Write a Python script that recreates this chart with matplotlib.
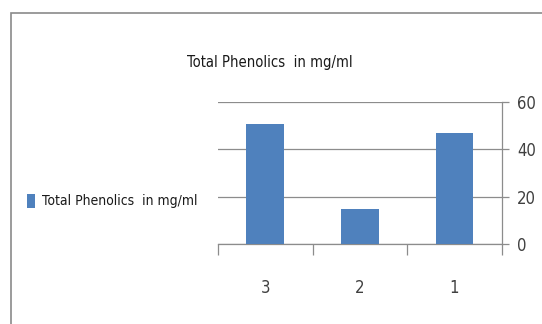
import matplotlib
matplotlib.use("Agg")
import matplotlib.pyplot as plt
from matplotlib.patches import Rectangle
from matplotlib.ticker import FixedLocator

categories = ["3", "2", "1"]
values = [50.5, 15, 47]
series_name = "Total Phenolics  in mg/ml"
y_ticks = [0, 20, 40, 60]

bar_color = "#4F81BD"
text_color = "#404040"
grid_color = "#8C8C8C"
cond = dict(family="DejaVu Sans", stretch="condensed")

fig = plt.figure(figsize=(5.42, 3.24), dpi=100)
fig.patch.set_facecolor("white")

# outer chart frame (only the top and left edges fall inside the canvas)
fig.add_artist(Rectangle((11 / 542, -0.2), 1.2, (1 - 13 / 324) + 0.2,
                         transform=fig.transFigure, fill=False,
                         edgecolor="#8A8A8A", linewidth=1.2))

ax = fig.add_axes([218 / 542, 1 - 244.3 / 324, (501.7 - 218) / 542, (244.3 - 101.7) / 324])
x = list(range(len(categories)))
bars = ax.bar(x, values, width=0.4, color=bar_color, label=series_name, zorder=3)

ax.set_xlim(-0.5, len(categories) - 0.5)
ax.set_ylim(0, 60)
ax.set_yticks(y_ticks)
ax.yaxis.tick_right()
ax.set_xticks(x)
ax.set_xticklabels(categories)
ax.xaxis.set_minor_locator(FixedLocator([i - 0.5 for i in range(len(categories) + 1)]))
ax.tick_params(axis="x", which="major", length=0, pad=25, labelsize=12, labelcolor=text_color)
ax.tick_params(axis="x", which="minor", length=8, color=grid_color, width=0.9)
ax.tick_params(axis="y", which="major", length=5, color=grid_color, width=0.9,
               pad=6, labelsize=12, labelcolor=text_color)
for lab in ax.get_xticklabels() + ax.get_yticklabels():
    lab.set_fontstretch("condensed")

for side in ["top", "left"]:
    ax.spines[side].set_visible(False)
ax.spines["right"].set_color(grid_color)
ax.spines["bottom"].set_color(grid_color)
ax.spines["right"].set_linewidth(0.9)
ax.spines["bottom"].set_linewidth(0.9)
ax.yaxis.grid(True, color=grid_color, linewidth=0.9, zorder=0)
ax.set_axisbelow(True)

fig.text(270 / 542, 1 - 63 / 324, series_name, ha="center", va="center",
         fontsize=10.6, color="#1A1A1A", **cond)

leg = fig.legend(handles=[bars], labels=[series_name], loc="center left",
                 bbox_to_anchor=(14 / 542, 1 - 201 / 324), frameon=False,
                 handlelength=0.6, handleheight=1.2, handletextpad=0.5,
                 prop=dict(size=10, **cond))
for t in leg.get_texts():
    t.set_color("#1A1A1A")

fig.savefig("out.png", dpi=100, facecolor="white")
